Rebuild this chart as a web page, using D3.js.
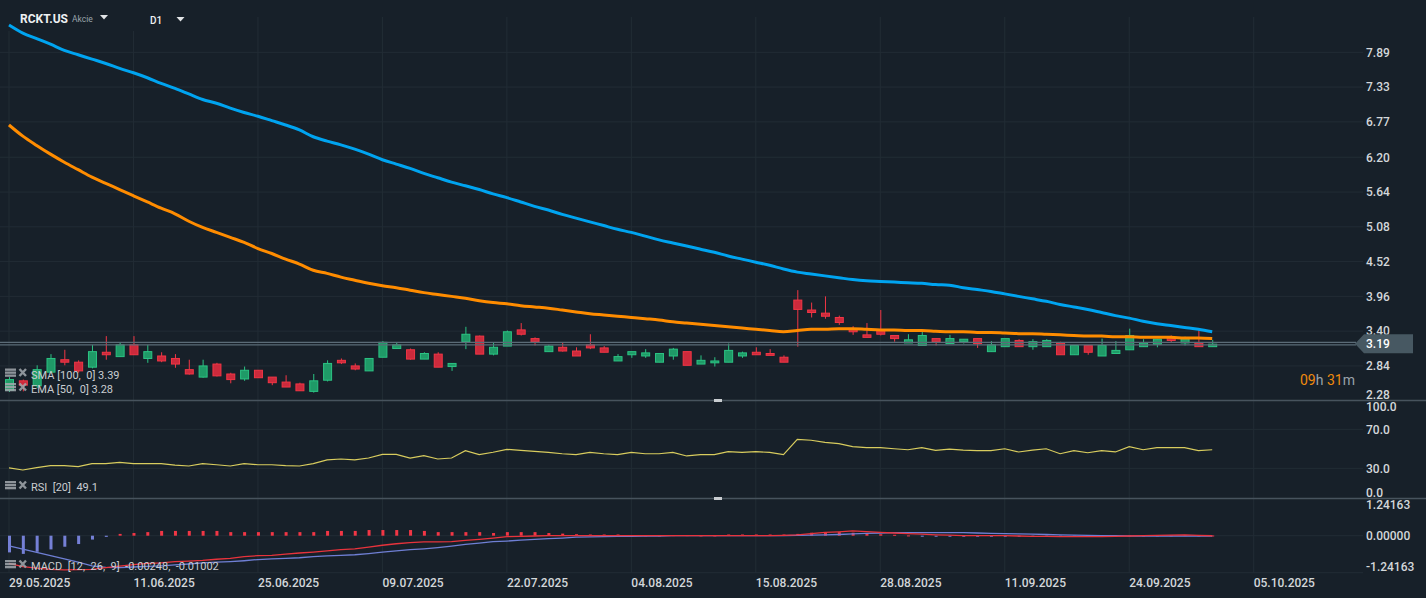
<!DOCTYPE html>
<html>
<head>
<meta charset="utf-8">
<script src="https://cdn.jsdelivr.net/npm/d3@7"></script>
<style>
    html, body { margin: 0; padding: 0; background: #172029; overflow: hidden; }
    svg { display: block; font-family: Roboto, "Noto Sans", sans-serif; }
</style>
</head>
<body>
<svg id="chart"></svg>
<script>
// --- data (D1 bars, 29.05.2025 .. 03.10.2025) ---
const dateLabels = ['29.05.2025', '11.06.2025', '25.06.2025', '09.07.2025', '22.07.2025', '04.08.2025',
    '15.08.2025', '28.08.2025', '11.09.2025', '24.09.2025', '05.10.2025'];
const dateIndex = [0, 9, 18, 27, 36, 45, 54, 63, 72, 81, 90];

const opens = [2.45, 2.60, 2.52, 2.74, 2.94, 2.90, 2.82, 3.06, 2.99, 3.18, 2.96, 3.00, 2.96, 2.78, 2.66, 2.87, 2.71, 2.63,
    2.77, 2.66, 2.58, 2.55, 2.43, 2.61, 2.93, 2.84, 2.76, 2.98, 3.12, 3.10, 2.95, 3.03, 2.83, 3.23, 3.32, 3.03,
    3.16, 3.42, 3.28, 3.07, 3.14, 3.08, 3.18, 3.13, 2.92, 3.02, 3.00, 2.90, 3.00, 3.07, 2.87, 2.89, 2.90, 3.00,
    3.06, 3.04, 2.98, 3.90, 3.74, 3.69, 3.62, 3.43, 3.34, 3.41, 3.33, 3.21, 3.17, 3.28, 3.20, 3.23, 3.28, 3.07,
    3.15, 3.25, 3.15, 3.15, 3.21, 3.02, 3.17, 3.00, 3.04, 3.10, 3.15, 3.19, 3.30, 3.21, 3.21, 3.15];
const highs = [2.66, 2.62, 2.85, 3.03, 3.10, 2.93, 3.18, 3.32, 3.22, 3.32, 3.18, 3.06, 3.03, 2.94, 2.94, 2.89, 2.73, 2.83,
    2.77, 2.66, 2.69, 2.57, 2.71, 2.93, 2.96, 2.88, 2.96, 3.24, 3.22, 3.12, 3.06, 3.06, 2.88, 3.47, 3.33, 3.22,
    3.41, 3.53, 3.30, 3.18, 3.22, 3.14, 3.35, 3.16, 3.03, 3.07, 3.11, 3.04, 3.13, 3.07, 3.01, 2.98, 3.20, 3.07,
    3.14, 3.11, 3.01, 4.06, 3.86, 3.96, 3.65, 3.48, 3.53, 3.74, 3.33, 3.35, 3.39, 3.28, 3.34, 3.27, 3.28, 3.24,
    3.28, 3.27, 3.27, 3.27, 3.23, 3.17, 3.17, 3.28, 3.24, 3.44, 3.27, 3.27, 3.33, 3.31, 3.42, 3.26];
const lows = [2.42, 2.43, 2.48, 2.72, 2.85, 2.73, 2.80, 2.94, 2.99, 3.02, 2.89, 2.90, 2.81, 2.70, 2.65, 2.67, 2.56, 2.60,
    2.65, 2.53, 2.50, 2.44, 2.41, 2.59, 2.87, 2.77, 2.76, 2.98, 3.12, 2.94, 2.95, 2.82, 2.76, 3.11, 3.03, 3.01,
    3.16, 3.33, 3.17, 3.07, 3.07, 3.00, 3.11, 3.06, 2.92, 2.97, 2.97, 2.90, 2.94, 2.85, 2.87, 2.83, 2.90, 2.97,
    3.02, 3.01, 2.90, 3.15, 3.62, 3.60, 3.50, 3.34, 3.30, 3.33, 3.23, 3.21, 3.17, 3.17, 3.20, 3.20, 3.13, 3.07,
    3.15, 3.15, 3.10, 3.15, 3.02, 3.02, 3.02, 3.00, 3.04, 3.10, 3.15, 3.14, 3.22, 3.17, 3.15, 3.15];
const closes = [2.62, 2.53, 2.78, 2.96, 2.90, 2.76, 3.07, 3.02, 3.18, 3.02, 3.07, 2.92, 2.87, 2.71, 2.84, 2.68, 2.62, 2.77,
    2.65, 2.57, 2.50, 2.44, 2.60, 2.88, 2.89, 2.79, 2.96, 3.22, 3.18, 2.95, 3.04, 2.82, 2.88, 3.35, 3.03, 3.14,
    3.39, 3.35, 3.23, 3.16, 3.08, 3.00, 3.13, 3.06, 2.99, 3.07, 3.05, 3.04, 3.11, 2.85, 2.93, 2.92, 3.09, 3.05,
    3.02, 3.01, 2.90, 3.75, 3.70, 3.64, 3.54, 3.39, 3.30, 3.35, 3.28, 3.26, 3.33, 3.23, 3.28, 3.27, 3.20, 3.18,
    3.28, 3.15, 3.23, 3.25, 3.02, 3.17, 3.06, 3.17, 3.09, 3.33, 3.21, 3.27, 3.25, 3.28, 3.15, 3.19];

const sma100 = [8.33, 8.20, 8.11, 8.02, 7.92, 7.85, 7.78, 7.71, 7.63, 7.56, 7.48, 7.39, 7.31, 7.22, 7.13, 7.07, 6.99, 6.92,
    6.86, 6.79, 6.72, 6.64, 6.53, 6.46, 6.40, 6.33, 6.25, 6.16, 6.09, 6.02, 5.94, 5.87, 5.80, 5.74, 5.68, 5.61,
    5.55, 5.48, 5.41, 5.35, 5.28, 5.22, 5.16, 5.10, 5.04, 4.99, 4.93, 4.87, 4.82, 4.77, 4.72, 4.67, 4.61, 4.56,
    4.51, 4.46, 4.40, 4.35, 4.32, 4.29, 4.26, 4.23, 4.21, 4.20, 4.19, 4.18, 4.17, 4.15, 4.14, 4.10, 4.07, 4.04,
    4.00, 3.96, 3.92, 3.88, 3.83, 3.79, 3.75, 3.70, 3.65, 3.61, 3.56, 3.52, 3.49, 3.46, 3.43, 3.39];
const ema50 = [6.72, 6.54, 6.39, 6.25, 6.12, 6.00, 5.88, 5.78, 5.68, 5.58, 5.48, 5.38, 5.29, 5.17, 5.07, 4.99, 4.91, 4.83,
    4.73, 4.65, 4.56, 4.48, 4.38, 4.33, 4.27, 4.22, 4.17, 4.13, 4.10, 4.06, 4.02, 3.99, 3.96, 3.93, 3.89, 3.86,
    3.84, 3.81, 3.79, 3.77, 3.74, 3.71, 3.68, 3.66, 3.64, 3.62, 3.60, 3.58, 3.55, 3.53, 3.51, 3.49, 3.47, 3.45,
    3.43, 3.41, 3.39, 3.41, 3.43, 3.43, 3.44, 3.44, 3.43, 3.42, 3.42, 3.41, 3.41, 3.40, 3.39, 3.39, 3.38, 3.38,
    3.37, 3.36, 3.36, 3.35, 3.34, 3.33, 3.32, 3.32, 3.31, 3.31, 3.30, 3.30, 3.30, 3.29, 3.29, 3.28];

const rsi20 = [30.4, 28.3, 30.7, 32.7, 32.7, 31.7, 34.8, 34.8, 36.2, 34.8, 34.8, 34.8, 33.4, 32.4, 34.8, 33.7, 32.4, 34.8,
    33.7, 33.7, 32.7, 32.4, 34.8, 38.6, 39.6, 38.6, 40.6, 44.4, 44.4, 40.6, 43.0, 39.6, 40.6, 48.1, 44.0, 46.5,
    49.5, 48.4, 47.4, 46.4, 45.0, 44.0, 46.4, 45.0, 44.0, 46.4, 45.0, 45.0, 46.4, 42.7, 44.0, 44.0, 47.1, 46.4,
    47.1, 46.4, 44.0, 59.8, 58.8, 56.7, 55.3, 52.2, 51.2, 51.2, 50.1, 49.1, 51.2, 48.4, 49.8, 48.7, 48.1, 48.1,
    50.1, 46.8, 48.7, 50.1, 45.0, 48.1, 46.0, 48.1, 46.8, 52.2, 49.1, 51.2, 51.2, 51.2, 48.1, 49.1];

const macdLine = [-0.93, -1.04, -1.09, -1.13, -1.15, -1.14, -1.13, -1.07, -1.02, -0.97, -0.93, -0.91, -0.87, -0.85, -0.83,
    -0.79, -0.76, -0.70, -0.67, -0.66, -0.62, -0.58, -0.55, -0.51, -0.47, -0.44, -0.38, -0.32, -0.27, -0.23,
    -0.21, -0.21, -0.20, -0.16, -0.12, -0.08, -0.03, -0.02, -0.01, 0.00, 0.00, 0.00, 0.00, 0.00, 0.00, 0.00,
    0.00, 0.00, 0.00, 0.00, 0.00, 0.00, 0.00, 0.00, 0.00, 0.00, 0.01, 0.03, 0.07, 0.11, 0.13, 0.16, 0.14,
    0.11, 0.09, 0.07, 0.05, 0.03, 0.02, 0.00, 0.00, 0.00, 0.00, -0.01, -0.02, -0.02, -0.03, -0.03, -0.03,
    -0.03, -0.02, -0.01, 0.00, 0.01, 0.02, 0.03, 0.01, -0.00248];
const signalLine = [-0.34, -0.45, -0.56, -0.67, -0.78, -0.89, -1.01, -1.06, -1.07, -1.05, -1.03, -1.01, -0.98, -0.95,
    -0.91, -0.89, -0.87, -0.84, -0.80, -0.78, -0.76, -0.74, -0.70, -0.68, -0.66, -0.64, -0.60, -0.55, -0.51,
    -0.47, -0.44, -0.40, -0.35, -0.29, -0.25, -0.20, -0.18, -0.15, -0.12, -0.10, -0.08, -0.05, -0.04, -0.03,
    -0.02, -0.02, -0.01, -0.01, 0.00, 0.00, 0.00, 0.00, 0.00, 0.00, 0.00, 0.00, 0.00, 0.01, 0.02, 0.03, 0.04,
    0.06, 0.08, 0.09, 0.10, 0.10, 0.10, 0.10, 0.10, 0.10, 0.09, 0.08, 0.07, 0.06, 0.05, 0.04, 0.03, 0.02,
    0.01, 0.00, 0.00, -0.01, -0.01, -0.01, -0.01, -0.01, -0.01, -0.01002];
const macdHist = [-0.56, -0.61, -0.54, -0.46, -0.37, -0.28, -0.13, -0.04, 0.06, 0.09, 0.12, 0.16, 0.16, 0.16, 0.16, 0.16,
    0.12, 0.12, 0.12, 0.12, 0.12, 0.12, 0.12, 0.16, 0.16, 0.16, 0.19, 0.19, 0.19, 0.19, 0.16, 0.12, 0.12, 0.12,
    0.12, 0.09, 0.12, 0.12, 0.12, 0.09, 0.07, 0.05, 0.04, 0.04, 0.04, 0.02, 0.01, 0.01, 0.02, 0.02, 0.01, 0.01,
    0.04, 0.04, 0.04, 0.04, 0.04, 0.06, 0.10, 0.12, 0.12, 0.10, 0.07, 0.05, 0.03, 0.01, -0.01, -0.01, -0.03,
    -0.01, -0.03, -0.03, -0.01, -0.01, -0.01, -0.01, -0.01, -0.01, -0.01, 0.00, 0.00, 0.01, 0.01, 0.01, 0.01,
    0.02, 0.01, 0.0075];

const priceTicks = [2.28, 2.84, 3.40, 3.96, 4.52, 5.08, 5.64, 6.20, 6.77, 7.33, 7.89];
const rsiTicks = [0, 30, 70, 100];
const macdTicks = [-1.24163, 0, 1.24163];
const lastPrice = 3.19;
const bidAsk = [3.22, 3.18];

// --- layout ---
const width = 1426;
const height = 598;
const bg = '#172029';
const gridColor = '#222c35';
const textColor = '#d3d7da';
const up = { fill: '#1f9a67', stroke: '#2bc383' };
const down = { fill: '#cc2a3c', stroke: '#f23645' };

const panes = {
    price: { top: 17, bottom: 400.5 },
    rsi: { top: 400.5, bottom: 498.5 },
    macd: { top: 498.5, bottom: 573 }
};

const svg = d3.select('#chart')
    .attr('width', width)
    .attr('height', height);

svg.append('rect')
    .attr('width', width)
    .attr('height', height)
    .attr('fill', bg);

const x = d3.scaleLinear().domain([0, 90]).range([9, 9 + 90 * 13.83]);
const yPrice = d3.scaleLinear().domain([2.28, 7.89]).range([400.7, 52.3]);
const yRsi = d3.scaleLinear().domain([0, 100]).range([497.6, 400.1]);
const yMacd = d3.scaleLinear().domain([-1.24163, 1.24163]).range([572.7, 498.7]);

const defs = svg.append('defs');
Object.entries(panes).forEach(([key, p]) => {
    defs.append('clipPath').attr('id', `clip-${key}`)
        .append('rect')
            .attr('x', 0)
            .attr('y', p.top)
            .attr('width', 1362)
            .attr('height', p.bottom - p.top);
});

// grid
const grid = svg.append('g').attr('class', 'grid');

grid.selectAll('line.v')
    .data(dateIndex)
    .join('line')
        .attr('class', 'v')
        .attr('x1', d => x(d)).attr('x2', d => x(d))
        .attr('y1', 17).attr('y2', 573)
        .attr('stroke', gridColor);

grid.selectAll('line.hp')
    .data(priceTicks.slice(1))
    .join('line')
        .attr('class', 'hp')
        .attr('x1', 0).attr('x2', 1363)
        .attr('y1', d => yPrice(d)).attr('y2', d => yPrice(d))
        .attr('stroke', gridColor);

grid.selectAll('line.hr')
    .data([30, 70])
    .join('line')
        .attr('class', 'hr')
        .attr('x1', 0).attr('x2', 1363)
        .attr('y1', d => yRsi(d)).attr('y2', d => yRsi(d))
        .attr('stroke', gridColor);

grid.selectAll('line.hm')
    .data([0, -1.24163])
    .join('line')
        .attr('class', 'hm')
        .attr('x1', 0).attr('x2', 1363)
        .attr('y1', d => yMacd(d)).attr('y2', d => yMacd(d))
        .attr('stroke', gridColor);

// header box hides the grid behind the title
svg.append('rect')
    .attr('x', 0).attr('y', 0)
    .attr('width', 200).attr('height', 31)
    .attr('fill', bg);

// --- price pane ---
const pricePane = svg.append('g').attr('clip-path', 'url(#clip-price)');

const candles = closes.map((c, i) => ({ i, o: opens[i], h: highs[i], l: lows[i], c }));

const candle = pricePane.selectAll('g.candle')
    .data(candles)
    .join('g')
        .classed('candle', true);

candle.append('line')
    .attr('x1', d => x(d.i) + 0.5).attr('x2', d => x(d.i) + 0.5)
    .attr('y1', d => yPrice(d.h)).attr('y2', d => yPrice(d.l))
    .attr('stroke', d => (d.c >= d.o ? up : down).stroke)
    .attr('stroke-width', 1);

candle.append('rect')
    .attr('x', d => x(d.i) - 3.5)
    .attr('y', d => yPrice(Math.max(d.o, d.c)))
    .attr('width', 8)
    .attr('height', d => Math.max(1, yPrice(Math.min(d.o, d.c)) - yPrice(Math.max(d.o, d.c))))
    .attr('fill', d => (d.c >= d.o ? up : down).fill)
    .attr('stroke', d => (d.c >= d.o ? up : down).stroke)
    .attr('stroke-width', 1);

const priceLine = d3.line().x((d, i) => x(i)).y(d => yPrice(d)).curve(d3.curveMonotoneX);

pricePane.append('path')
    .attr('d', priceLine(ema50))
    .attr('fill', 'none')
    .attr('stroke', '#ff8c00')
    .attr('stroke-width', 3)
    .attr('stroke-linejoin', 'round');

pricePane.append('path')
    .attr('d', priceLine(sma100))
    .attr('fill', 'none')
    .attr('stroke', '#00a4f0')
    .attr('stroke-width', 3)
    .attr('stroke-linejoin', 'round');

// bid / ask lines
svg.selectAll('line.bidask')
    .data(bidAsk)
    .join('line')
        .attr('class', 'bidask')
        .attr('x1', 0).attr('x2', 1356)
        .attr('y1', d => yPrice(d)).attr('y2', d => yPrice(d))
        .attr('stroke', '#5b6b77')
        .attr('stroke-width', 1.2);

// --- RSI pane ---
const rsiPane = svg.append('g').attr('clip-path', 'url(#clip-rsi)');
rsiPane.append('path')
    .attr('d', d3.line().x((d, i) => x(i)).y(d => yRsi(d))(rsi20))
    .attr('fill', 'none')
    .attr('stroke', '#d8cc5e')
    .attr('stroke-width', 1.2);

// --- MACD pane ---
const macdPane = svg.append('g').attr('clip-path', 'url(#clip-macd)');
macdPane.selectAll('rect.hist')
    .data(macdHist)
    .join('rect')
        .attr('class', 'hist')
        .attr('x', (d, i) => x(i) - 1)
        .attr('y', d => Math.min(yMacd(d), yMacd(0)))
        .attr('width', 3)
        .attr('height', d => Math.max(1, Math.abs(yMacd(d) - yMacd(0))))
        .attr('fill', d => (d >= 0 ? '#f23645' : '#7580d6'));

const macdPath = d3.line().x((d, i) => x(i)).y(d => yMacd(d));
macdPane.append('path')
    .attr('d', macdPath(signalLine))
    .attr('fill', 'none')
    .attr('stroke', '#6f7fd4')
    .attr('stroke-width', 1.3);
macdPane.append('path')
    .attr('d', macdPath(macdLine))
    .attr('fill', 'none')
    .attr('stroke', '#e8333c')
    .attr('stroke-width', 1.3);

// separators
svg.selectAll('line.sep')
    .data([panes.rsi.top, panes.macd.top])
    .join('line')
        .attr('class', 'sep')
        .attr('x1', 0).attr('x2', width)
        .attr('y1', d => d).attr('y2', d => d)
        .attr('stroke', '#47535d')
        .attr('stroke-width', 1.5);

svg.selectAll('rect.handle')
    .data([panes.rsi.top, panes.macd.top])
    .join('rect')
        .attr('class', 'handle')
        .attr('x', 714).attr('y', d => d - 1.5)
        .attr('width', 8).attr('height', 3)
        .attr('fill', '#c9cdd1');

// --- right axes ---
const axisX = 1366;
const clampLabel = (y, p) => Math.max(p.top + 6.5, Math.min(p.bottom - 6, y));

function axisLabels(cls, ticks, scale, pane, fmt) {
    svg.selectAll(`text.${cls}`)
        .data(ticks)
        .join('text')
            .attr('class', cls)
            .attr('x', axisX)
            .attr('y', d => clampLabel(scale(d), pane))
            .attr('dy', '0.36em')
            .attr('fill', textColor)
            .attr('font-size', 12)
            .attr('font-weight', 500)
            .text(fmt);
}

axisLabels('pt', priceTicks, yPrice, { top: 17, bottom: 401 }, d => d.toFixed(2));
axisLabels('rt', rsiTicks, yRsi, panes.rsi, d => d.toFixed(1));
axisLabels('mt', macdTicks, yMacd, panes.macd, d => d.toFixed(5));

// last price tag
const ly = yPrice(lastPrice) - 0.5;
svg.append('path')
    .attr('d', `M1355,${ly} L1364,${ly - 9.5} H1413 V${ly + 9.5} H1364 Z`)
    .attr('fill', '#475862');
svg.append('text')
    .attr('x', axisX).attr('y', ly)
    .attr('dy', '0.36em')
    .attr('fill', '#ffffff')
    .attr('font-size', 12)
    .attr('font-weight', 500)
    .text(lastPrice.toFixed(2));

// countdown
const timer = svg.append('text')
    .attr('x', 1300).attr('y', 385)
    .attr('font-size', 14);
[['09', '#ef8a0d'], ['h ', '#9aa3aa'], ['31', '#ef8a0d'], ['m', '#9aa3aa']].forEach(([t, c]) => {
    timer.append('tspan').attr('fill', c).text(t);
});

// --- date axis ---
svg.selectAll('text.date')
    .data(dateIndex)
    .join('text')
        .attr('class', 'date')
        .attr('x', d => x(d))
        .attr('y', 586.5)
        .attr('fill', textColor)
        .attr('font-size', 12)
        .attr('font-weight', 500)
        .text((d, i) => dateLabels[i]);

// --- header ---
svg.append('text')
    .attr('x', 20).attr('y', 23)
    .attr('fill', '#eef0f2')
    .attr('font-size', 12)
    .attr('font-weight', 700)
    .text('RCKT.US');
svg.append('text')
    .attr('x', 72).attr('y', 22)
    .attr('fill', '#9aa4ab')
    .attr('font-size', 8.5)
    .text('Akcie');
svg.append('path')
    .attr('d', 'M100,15 H108 L104,19.5 Z')
    .attr('fill', '#e2e4e6');
svg.append('text')
    .attr('x', 150).attr('y', 24)
    .attr('fill', '#eef0f2')
    .attr('font-size', 10)
    .attr('font-weight', 500)
    .text('D1');
svg.append('path')
    .attr('d', 'M176.5,17 H184.5 L180.5,21.5 Z')
    .attr('fill', '#e2e4e6');

// --- indicator legends ---
const legends = [
    { y: 375, text: 'SMA [100,  0] 3.39' },
    { y: 389.5, text: 'EMA [50,  0] 3.28' },
    { y: 487.5, text: 'RSI  [20]  49.1' },
    { y: 566.5, text: 'MACD  [12,  26,  9]  -0.00248,  -0.01002' }
];

const legend = svg.selectAll('g.legend')
    .data(legends)
    .join('g')
        .classed('legend', true)
        .attr('transform', d => `translate(0, ${d.y})`);

// list icon
[-6, -3, 0].forEach(dy => {
    legend.append('rect')
        .attr('x', 5).attr('y', dy - 0.5)
        .attr('width', 11).attr('height', 2.3)
        .attr('fill', '#a3a9ae')
        .attr('opacity', 0.85);
});
// close icon
legend.append('path')
    .attr('d', 'M19.5,-6 L26,1 M26,-6 L19.5,1')
    .attr('stroke', '#a3a9ae')
    .attr('stroke-width', 2.4)
    .attr('opacity', 0.85);

legend.append('text')
    .attr('x', 31).attr('y', 0)
    .attr('dy', '0.35em')
    .attr('fill', '#c9cdd1')
    .attr('font-size', 11)
    .attr('xml:space', 'preserve')
    .style('white-space', 'pre')
    .text(d => d.text);
</script>
</body>
</html>
